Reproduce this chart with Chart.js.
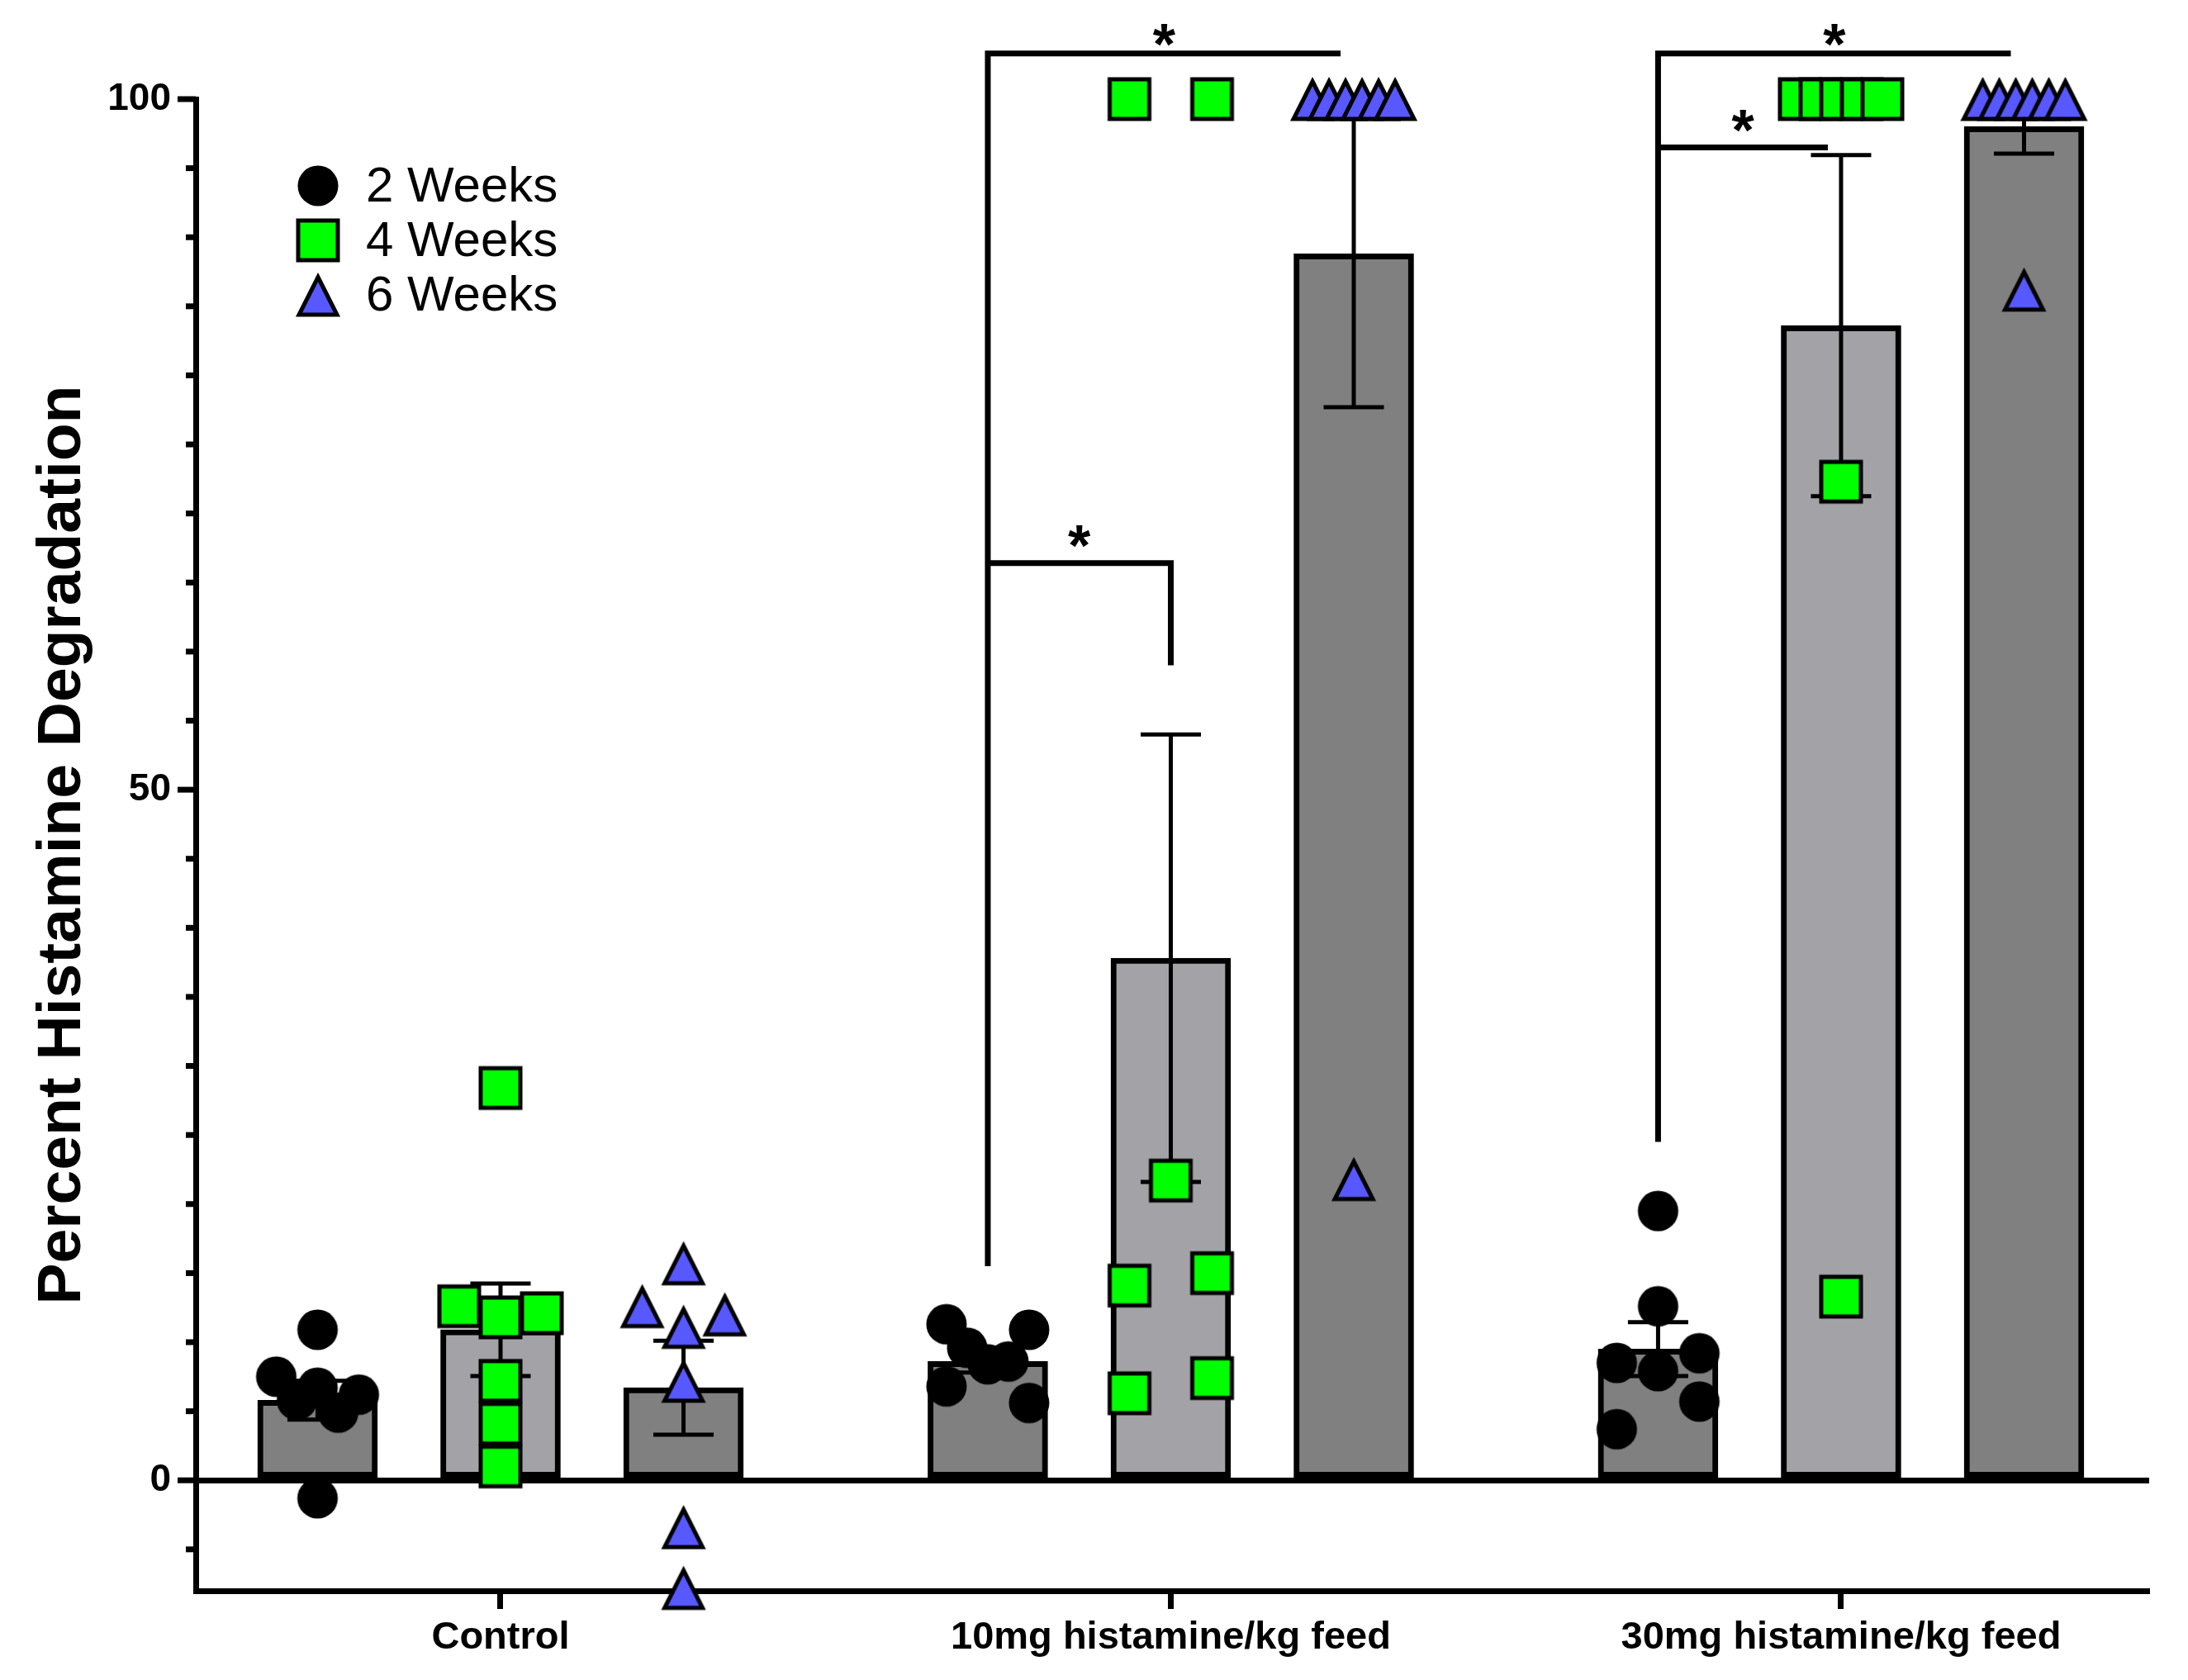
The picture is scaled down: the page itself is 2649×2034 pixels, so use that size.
<!DOCTYPE html>
<html>
<head>
<meta charset="utf-8">
<title>Percent Histamine Degradation</title>
<script src="https://cdn.jsdelivr.net/npm/chart.js@4.4.1/dist/chart.umd.min.js"></script>
<style>
  html, body { margin: 0; padding: 0; background: #fff; }
  canvas { display: block; }
</style>
</head>
<body>
<canvas id="histamineChart" width="2649" height="2034"></canvas>
<script>
const categories = ["Control", "10mg histamine/kg feed", "30mg histamine/kg feed"]
const seriesLabels = ["2 Weeks", "4 Weeks", "6 Weeks"]
const yLabelTicks = [0, 50, 100]

// individual values, one inner array per group (Control, 10mg, 30mg)
const points2wk = [
  [10.9, 7.5, 5.8, 6.7, 4.9, 6.2, -1.3],
  [11.3, 9.6, 8.4, 8.6, 10.9, 6.8, 5.6],
  [19.5, 12.6, 8.5, 7.9, 9.2, 3.7, 5.7],
]
const points4wk = [
  [28.4, 12.6, 11.8, 12.1, 7.2, 4.1, 1.0],
  [100, 100, 21.7, 14.1, 15.0, 6.3, 7.4],
  [100, 100, 100, 100, 100, 72.3, 13.3],
]
const points6wk = [
  [15.7, 12.6, 11.1, 12.0, 7.2, -3.4, -7.8],
  [100, 100, 100, 100, 100, 100, 21.8],
  [100, 100, 100, 100, 100, 100, 86.2],
]

// bar heights (mean) and error bars (SEM)
const mean2wk = [5.8, 8.6, 9.5]
const mean4wk = [10.9, 37.8, 83.6]
const mean6wk = [6.7, 88.8, 98.0]
const sem2wk = [1.4, 0.8, 1.95]
const sem4wk = [3.35, 16.2, 12.35]
const sem6wk = [3.4, 11.1, 1.95]

// significance brackets (bar index 0/1/2 = 2/4/6 weeks inside a group)
const brackets = [
  { group: 1, from: 0, to: 2, level: 103.3, leftEnd: 15.5, rightEnd: null, label: "*" },
  { group: 1, from: 0, to: 1, level: 66.4, leftEnd: null, rightEnd: 59.0, label: "*" },
  { group: 2, from: 0, to: 2, level: 103.3, leftEnd: 24.5, rightEnd: null, label: "*" },
  { group: 2, from: 0, to: 1, level: 96.5, leftEnd: null, rightEnd: null, label: "*" },
]

const barOffset = [-0.273, 0, 0.273]
const barColors = ["#808080", "#a3a3a7", "#808080"]
const FONT = "'Liberation Sans', Arial, Helvetica, sans-serif"

Chart.defaults.font.family = FONT
Chart.defaults.color = "#000"

// marker images
function makeMarker(shape) {
  const c = document.createElement("canvas")
  c.width = 60
  c.height = 60
  const g = c.getContext("2d")
  g.lineWidth = 5
  g.strokeStyle = "#000"
  g.lineJoin = "miter"
  if (shape === "circle") {
    g.fillStyle = "#000"
    g.beginPath()
    g.arc(30, 30, 24.5, 0, Math.PI * 2)
    g.fill()
  } else if (shape === "square") {
    g.fillStyle = "#00ff00"
    g.fillRect(6, 6, 48, 48)
    g.strokeRect(6, 6, 48, 48)
  } else {
    g.fillStyle = "#5858ff"
    g.beginPath()
    g.moveTo(30, 8.5)
    g.lineTo(53, 54)
    g.lineTo(7, 54)
    g.closePath()
    g.fill()
    g.stroke()
  }
  return c
}
const markers = [makeMarker("circle"), makeMarker("square"), makeMarker("triangle")]

function barSet(means, sems, s) {
  return {
    type: "bar",
    label: seriesLabels[s],
    data: means.map((m, g) => ({ x: g + barOffset[s], y: m })),
    errors: sems,
    backgroundColor: barColors[s],
    borderColor: "#000",
    borderWidth: 7,
    borderSkipped: false,
    barThickness: 145,
    grouped: false,
    order: 2,
    clip: false,
  }
}

function pointSet(groups, s) {
  const data = []
  groups.forEach((vals, g) => vals.forEach((v) => data.push({ x: g + barOffset[s], y: v })))
  return {
    type: "scatter",
    label: seriesLabels[s],
    data: data,
    groups: groups,
    series: s,
    pointStyle: markers[s],
    pointRadius: 27,
    order: 1,
    clip: false,
  }
}

// spread points that sit at similar heights side by side (Prism-like rows)
const ROW_PX = 50
const STEP_PX = 50
function swarm(values, center, xs, ys) {
  const unit = xs.getPixelForValue(1) - xs.getPixelForValue(0)
  const order = values.map((v, i) => i).sort((a, b) => values[b] - values[a])
  const rows = []
  order.forEach((i) => {
    const row = rows[rows.length - 1]
    if (row && ys.getPixelForValue(values[i]) - ys.getPixelForValue(values[row[0]]) < ROW_PX) row.push(i)
    else rows.push([i])
  })
  const out = []
  rows.forEach((row) => {
    row.sort((a, b) => a - b)
    row.forEach((i, k) => {
      const off = row.length === 1 ? 0 : -1 + (2 * k) / (row.length - 1)
      out[i] = { x: center + (off * STEP_PX) / unit, y: values[i] }
    })
  })
  return out
}

const errorBarPlugin = {
  id: "errorBars",
  afterDatasetDraw(chart, args) {
    const ds = chart.data.datasets[args.index]
    if (!ds.errors) return
    const { ctx } = chart
    const ys = chart.scales.y
    ctx.save()
    ctx.strokeStyle = "#000"
    ctx.lineWidth = 5
    args.meta.data.forEach((bar, i) => {
      const m = ds.data[i].y
      const e = ds.errors[i]
      const top = ys.getPixelForValue(m + e)
      const bottom = ys.getPixelForValue(m - e)
      ctx.beginPath()
      ctx.moveTo(bar.x, top)
      ctx.lineTo(bar.x, bottom)
      ctx.moveTo(bar.x - 36.5, top)
      ctx.lineTo(bar.x + 36.5, top)
      ctx.moveTo(bar.x - 36.5, bottom)
      ctx.lineTo(bar.x + 36.5, bottom)
      ctx.stroke()
    })
    ctx.restore()
  },
}

const yTickPlugin = {
  id: "yTicks",
  afterDraw(chart) {
    const { ctx, chartArea } = chart
    const ys = chart.scales.y
    ctx.save()
    ctx.strokeStyle = "#000"
    ctx.lineWidth = 7
    ys.ticks.forEach((t) => {
      const len = yLabelTicks.includes(t.value) ? 22 : 12
      const py = ys.getPixelForValue(t.value)
      ctx.beginPath()
      ctx.moveTo(chartArea.left - len, py)
      ctx.lineTo(chartArea.left, py)
      ctx.stroke()
    })
    ctx.restore()
  },
}

const bracketPlugin = {
  id: "brackets",
  afterDraw(chart) {
    const { ctx, chartArea } = chart
    const xs = chart.scales.x
    const ys = chart.scales.y
    ctx.save()
    ctx.lineWidth = 7
    ctx.strokeStyle = "#000"
    ctx.fillStyle = "#000"
    ctx.lineJoin = "miter"
    ctx.font = "bold 70px " + FONT
    ctx.textAlign = "center"
    brackets.forEach((b) => {
      const x1 = xs.getPixelForValue(b.group + barOffset[b.from])
      let x2 = xs.getPixelForValue(b.group + barOffset[b.to])
      const yl = ys.getPixelForValue(b.level)
      if (b.rightEnd == null) x2 -= 16
      ctx.beginPath()
      if (b.leftEnd == null) {
        ctx.moveTo(x1, yl)
      } else {
        ctx.moveTo(x1, ys.getPixelForValue(b.leftEnd))
        ctx.lineTo(x1, yl)
      }
      ctx.lineTo(x2, yl)
      if (b.rightEnd != null) ctx.lineTo(x2, ys.getPixelForValue(b.rightEnd))
      ctx.stroke()
      const m = ctx.measureText(b.label)
      // keep the star clear of the page top
      const cy = Math.max(yl - 32, chartArea.top - 78)
      ctx.fillText(b.label, (x1 + x2) / 2, cy + (m.actualBoundingBoxAscent - m.actualBoundingBoxDescent) / 2)
    })
    ctx.restore()
  },
}

const legendPlugin = {
  id: "weekLegend",
  afterDraw(chart) {
    const { ctx, chartArea } = chart
    ctx.save()
    ctx.font = "60px " + FONT
    ctx.fillStyle = "#000"
    ctx.textBaseline = "middle"
    seriesLabels.forEach((label, i) => {
      const y = chartArea.top + 105 + i * 66
      const img = markers[i]
      ctx.drawImage(img, chartArea.left + 148 - img.width / 2, y - img.height / 2)
      ctx.fillText(label, chartArea.left + 206, y + 2)
    })
    ctx.restore()
  },
}

const ctx = document.getElementById("histamineChart").getContext("2d")
const chart = new Chart(ctx, {
  type: "bar",
  data: {
    datasets: [
      barSet(mean2wk, sem2wk, 0),
      barSet(mean4wk, sem4wk, 1),
      barSet(mean6wk, sem6wk, 2),
      pointSet(points2wk, 0),
      pointSet(points4wk, 1),
      pointSet(points6wk, 2),
    ],
  },
  options: {
    responsive: false,
    animation: false,
    devicePixelRatio: 1,
    layout: { padding: { top: 120, right: 47, left: 0, bottom: 0 } },
    plugins: {
      legend: { display: false },
      tooltip: { enabled: false },
    },
    scales: {
      x: {
        type: "linear",
        offset: false,
        min: -0.4547,
        max: 2.4597,
        afterBuildTicks: (scale) => {
          scale.ticks = categories.map((c, i) => ({ value: i }))
        },
        afterFit: (scale) => {
          scale.height = 108
        },
        ticks: {
          autoSkip: false,
          maxRotation: 0,
          padding: 7,
          font: { size: 47, weight: "bold" },
          color: "#000",
          callback: (v) => categories[v],
        },
        grid: {
          offset: false,
          drawOnChartArea: false,
          drawTicks: true,
          tickLength: 22,
          tickWidth: 7,
          tickColor: "#000",
        },
        border: { display: true, color: "#000", width: 7 },
      },
      y: {
        type: "linear",
        min: -8,
        max: 100,
        afterFit: (scale) => {
          scale.width = 237
        },
        ticks: {
          stepSize: 5,
          includeBounds: false,
          autoSkip: false,
          padding: 30,
          font: { size: 46, weight: "bold" },
          color: "#000",
          callback: (v) => (yLabelTicks.includes(v) ? v : ""),
        },
        grid: {
          drawTicks: false,
          lineWidth: 7,
          color: (c) => (c.tick && c.tick.value === 0 ? "#000" : "rgba(0,0,0,0)"),
        },
        border: { display: true, color: "#000", width: 7 },
        title: {
          display: true,
          text: "Percent Histamine Degradation",
          font: { size: 75, weight: "bold" },
          color: "#000",
          padding: { top: 31, bottom: 0 },
        },
      },
    },
  },
  plugins: [errorBarPlugin, yTickPlugin, bracketPlugin, legendPlugin],
})

// second pass: spread the dots once the scales are known
chart.data.datasets.forEach((ds) => {
  if (!ds.groups) return
  const pts = []
  ds.groups.forEach((vals, g) => {
    swarm(vals, g + barOffset[ds.series], chart.scales.x, chart.scales.y).forEach((p) => pts.push(p))
  })
  ds.data = pts
})
chart.update("none")
</script>
</body>
</html>
